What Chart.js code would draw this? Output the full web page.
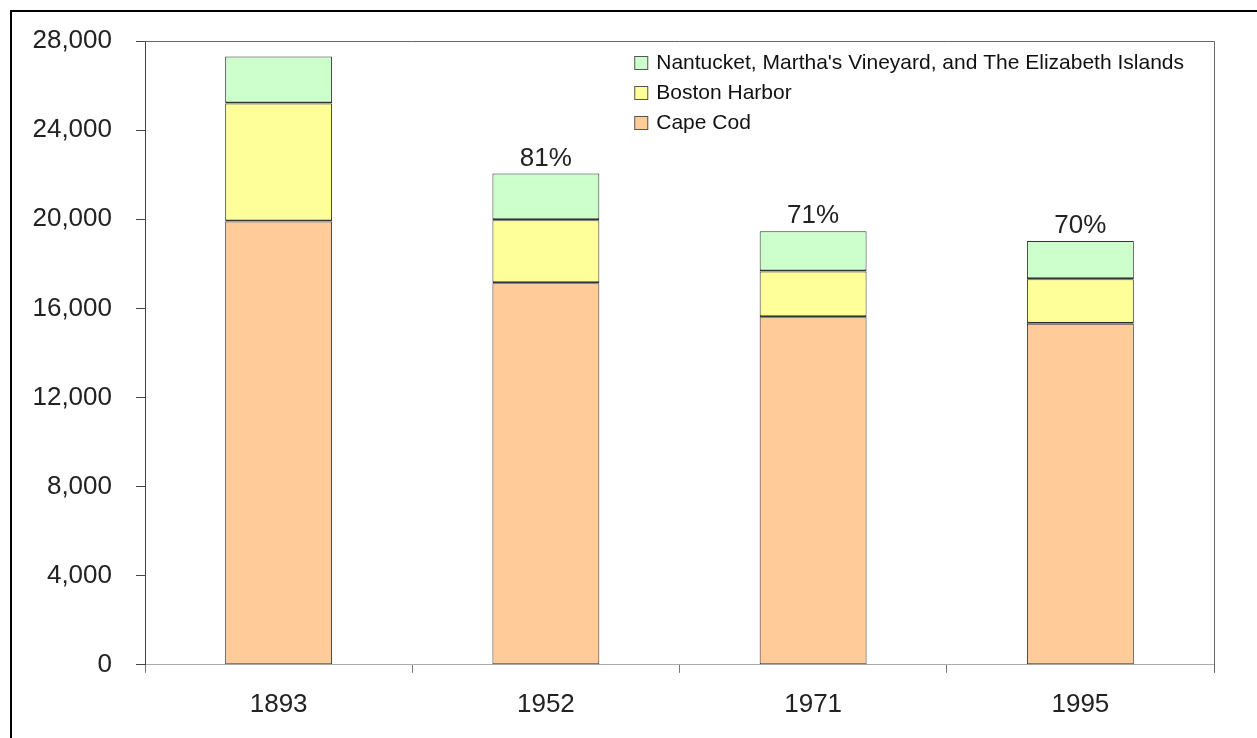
<!DOCTYPE html>
<html>
<head>
<meta charset="utf-8">
<script src="https://cdn.jsdelivr.net/npm/chart.js@4.4.0/dist/chart.umd.min.js"></script>
<style>
  html, body { margin: 0; padding: 0; background: #fff; }
  #wrap { position: relative; width: 1257px; height: 738px; }
</style>
</head>
<body>
<div id="wrap"><canvas id="chart" width="1257" height="738"></canvas></div>
<script>
// values
const years = ['1893', '1952', '1971', '1995'];
const capeCod = [19900, 17130, 15600, 15310];
const bostonHarbor = [5290, 2820, 2055, 2000];
const islands = [2110, 2100, 1800, 1710];
const pctLabels = ['', '81%', '71%', '70%'];
const yTicks = [0, 4000, 8000, 12000, 16000, 20000, 24000, 28000];

const FONT = '"Liberation Sans", Arial, sans-serif';

// white background, outer frame, box round the plot area
const framePlugin = {
    id: 'frame',
    beforeDraw(chart) {
        const ctx = chart.ctx;
        ctx.save();
        ctx.fillStyle = '#fff';
        ctx.fillRect(0, 0, chart.width, chart.height);
        ctx.strokeStyle = '#000';
        ctx.lineWidth = 2;
        ctx.beginPath();
        ctx.moveTo(11, chart.height);
        ctx.lineTo(11, 11);
        ctx.lineTo(chart.width, 11);
        ctx.stroke();
        ctx.restore();
    },
    afterDraw(chart) {
        const a = chart.chartArea;
        const ctx = chart.ctx;
        ctx.save();
        ctx.strokeStyle = '#666';
        ctx.lineWidth = 1;
        ctx.beginPath();
        ctx.moveTo(a.left, a.top + 0.5);
        ctx.lineTo(a.right + 0.5, a.top + 0.5);
        ctx.lineTo(a.right + 0.5, a.bottom + 8);
        ctx.stroke();
        ctx.restore();
    }
};

// percent labels above the bars
const pctPlugin = {
    id: 'pct',
    afterDatasetsDraw(chart) {
        const ctx = chart.ctx;
        const top = chart.getDatasetMeta(chart.data.datasets.length - 1);
        ctx.save();
        ctx.font = '26px ' + FONT;
        ctx.fillStyle = '#222';
        ctx.textAlign = 'center';
        ctx.textBaseline = 'alphabetic';
        top.data.forEach((bar, i) => {
            if (pctLabels[i]) ctx.fillText(pctLabels[i], bar.x, bar.y - 8);
        });
        ctx.restore();
    }
};

// legend inside the plot, top right
const legendPlugin = {
    id: 'boxLegend',
    afterDraw(chart) {
        const ctx = chart.ctx;
        const a = chart.chartArea;
        const sets = chart.data.datasets.slice().reverse();
        ctx.save();
        ctx.font = '21px ' + FONT;
        let maxW = 0;
        sets.forEach(d => { maxW = Math.max(maxW, ctx.measureText(d.label).width); });
        const textX = a.right - 30 - maxW;
        const boxX = textX - 22;
        ctx.textBaseline = 'middle';
        sets.forEach((d, i) => {
            const y = a.top + 22 + i * 30;
            ctx.fillStyle = d.backgroundColor;
            ctx.fillRect(boxX, y - 7, 14, 14);
            ctx.strokeStyle = '#555';
            ctx.lineWidth = 1;
            ctx.strokeRect(boxX + 0.5, y - 6.5, 13, 13);
            ctx.fillStyle = '#111';
            ctx.fillText(d.label, textX, y);
        });
        ctx.restore();
    }
};

function makeSet(label, data, color, bottom) {
    return {
        label: label,
        data: data,
        backgroundColor: color,
        borderColor: '#333',
        borderWidth: { top: 1, left: 1, right: 1, bottom: bottom },
        borderSkipped: false,
        barPercentage: 0.4,
        categoryPercentage: 1.0
    };
}

new Chart(document.getElementById('chart'), {
    type: 'bar',
    data: {
        labels: years,
        datasets: [
            makeSet('Cape Cod', capeCod, '#FFCC99', 1),
            makeSet('Boston Harbor', bostonHarbor, '#FFFF99', 2),
            makeSet("Nantucket, Martha's Vineyard, and The Elizabeth Islands", islands, '#CCFFCC', 2)
        ]
    },
    options: {
        responsive: false,
        animation: false,
        events: [],
        layout: { padding: { top: 41, right: 43, left: 0, bottom: 2 } },
        plugins: {
            legend: { display: false },
            tooltip: { enabled: false }
        },
        scales: {
            x: {
                stacked: true,
                offset: true,
                grid: {
                    offset: true,
                    drawOnChartArea: false,
                    drawTicks: true,
                    tickLength: 8,
                    color: '#777'
                },
                border: { display: true, color: '#aaa', width: 1 },
                ticks: {
                    padding: 16,
                    color: '#222',
                    font: { family: FONT, size: 26 }
                }
            },
            y: {
                stacked: true,
                min: 0,
                max: 28000,
                afterBuildTicks(scale) {
                    scale.ticks = yTicks.map(v => ({ value: v }));
                },
                afterFit(scale) { scale.width = 145; },
                grid: {
                    drawOnChartArea: false,
                    drawTicks: true,
                    tickLength: 9,
                    color: '#444'
                },
                border: { display: true, color: '#444', width: 1 },
                ticks: {
                    padding: 24,
                    color: '#222',
                    font: { family: FONT, size: 26 },
                    callback: v => v.toLocaleString('en-US')
                }
            }
        }
    },
    plugins: [framePlugin, pctPlugin, legendPlugin]
});
</script>
</body>
</html>
